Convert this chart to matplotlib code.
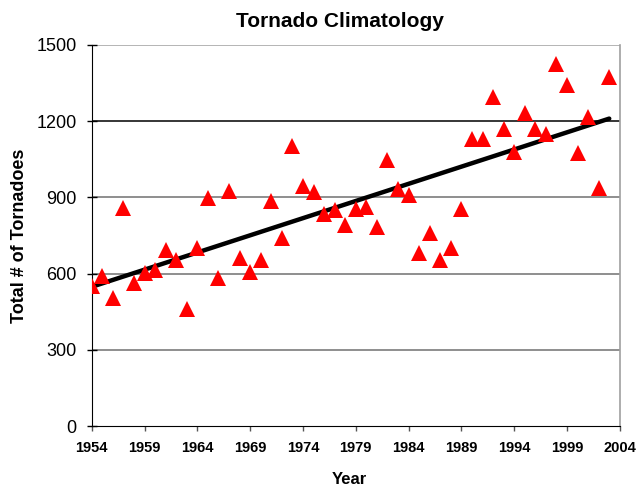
import numpy as np
import matplotlib
matplotlib.use("Agg")
import matplotlib.pyplot as plt

years = list(range(1954, 2004))
tornadoes = [551, 590, 505, 858, 562, 601, 613, 694, 653, 459,
             702, 897, 584, 925, 660, 608, 653, 887, 739, 1103,
             945, 921, 836, 850, 790, 853, 863, 785, 1046, 933,
             909, 682, 761, 653, 700, 853, 1131, 1131, 1295, 1171,
             1080, 1232, 1171, 1148, 1426, 1342, 1074, 1216, 938, 1375]
y_ticks = [0, 300, 600, 900, 1200, 1500]
x_ticks = [1954, 1959, 1964, 1969, 1974, 1979, 1984, 1989, 1994, 1999, 2004]

plt.rcParams["font.family"] = ["Liberation Sans", "DejaVu Sans"]

fig = plt.figure(figsize=(6.37, 4.90), dpi=100)
ax = fig.add_axes([0.144, 0.1306, 0.829, 0.7776])

x = np.array(years, dtype=float)
y = np.array(tornadoes, dtype=float)

# linear trend of annual counts
slope, intercept = np.polyfit(x, y, 1)
ax.plot(x, slope * x + intercept, color="black", lw=3.2, zorder=3,
        solid_capstyle="round")
ax.plot(x, y, linestyle="none", marker="^", markersize=11,
        color="#ff0000", markeredgewidth=0, zorder=4)

ax.set_xlim(1954, 2004)
ax.set_ylim(0, 1500)
ax.set_xticks(x_ticks)
ax.set_xticklabels([str(t) for t in x_ticks], fontsize=10.5,
                   fontweight="bold")
ax.set_yticks(y_ticks)
ax.set_yticklabels([str(t) for t in y_ticks], fontsize=13)

for v in y_ticks[1:]:
    col = "black" if v == 1200 else "#707070"
    if v == 1500:
        col = "#a0a0a0"
    ax.axhline(v, color=col, lw=1.1, zorder=1)

ax.spines["left"].set_color("black")
ax.spines["bottom"].set_color("black")
ax.spines["top"].set_visible(False)
ax.spines["right"].set_color("#a0a0a0")
ax.spines["right"].set_linewidth(1.2)
ax.tick_params(axis="y", direction="inout", length=7.5, width=1, pad=7)
ax.tick_params(axis="x", direction="out", length=3.5, width=1, pad=7,
               color="#555555")

ax.set_ylabel("Total # of Tornadoes", fontsize=13, fontweight="bold",
              labelpad=6)
fig.text(0.534, 0.957, "Tornado Climatology", ha="center", va="center",
         fontsize=15, fontweight="bold")
fig.text(0.548, 0.022, "Year", ha="center", va="center",
         fontsize=12, fontweight="bold")

fig.savefig("out.png", dpi=100)
